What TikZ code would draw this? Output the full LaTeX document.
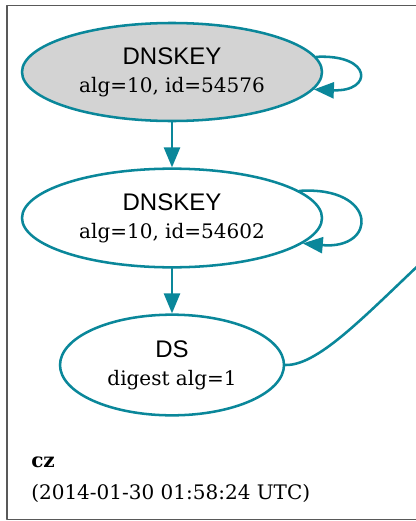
\documentclass[tikz,border=0pt]{standalone}
\usepackage{fontspec}
\setmainfont{DejaVu Serif}
\newfontfamily\keysans{Liberation Sans}
\usetikzlibrary{shapes.geometric,arrows.meta}
\definecolor{dnsteal}{RGB}{10,135,154}
\definecolor{keygray}{RGB}{211,211,211}

\begin{document}
\begin{tikzpicture}[x=0.75pt,y=-0.75pt,>={Triangle[length=15pt,width=12pt]},line join=round,line cap=round,
	rrset/.style={ellipse,draw=dnsteal,line width=1.9pt,inner sep=0pt,align=center,font=\fontsize{15}{19}\selectfont},
	rredge/.style={->,draw=dnsteal,line width=1.9pt}]
	\useasboundingbox (0,0) rectangle (416,521);
	\clip (0,0) rectangle (416,521);
	% zone box
	\draw[black!65,line width=0.9pt] (7,5.5) rectangle (440,519.5);
	% keys and ds
	\node[rrset,fill=keygray,minimum width=225pt,minimum height=73.5pt] (dnskey1) at (172,72)
		{{\keysans\fontsize{18}{19}\selectfont DNSKEY}\\[2pt]alg=10, id=54576};
	\node[rrset,minimum width=225pt,minimum height=74pt] (dnskey2) at (172,218)
		{{\keysans\fontsize{18}{19}\selectfont DNSKEY}\\[2pt]alg=10, id=54602};
	\node[rrset,minimum width=168pt,minimum height=75.5pt] (ds) at (172,365)
		{{\keysans\fontsize{18}{19}\selectfont DS}\\[2pt]digest alg=1};
	\coordinate (parent) at (440,245);
	% edges
	\draw[rredge] (dnskey1.6) .. controls (373,54) and (373,92) .. (dnskey1.-7);
	\draw[rredge] (dnskey2.12) .. controls (378,186) and (378,250) .. (dnskey2.-11);
	\draw[rredge] (dnskey1.south) -- (dnskey2.north);
	\draw[rredge] (dnskey2.south) -- (ds.north);
	\draw[draw=dnsteal,line width=1.9pt] (ds.east) .. controls (320,366) and (370,310) .. (parent);
	% zone label
	\node[anchor=base west,inner sep=0pt,font=\fontsize{15}{18}\selectfont\bfseries] (zonename) at (31,467) {cz};
	\node[anchor=base west,inner sep=0pt,font=\fontsize{15}{18}\selectfont] (zonetime) at (31,499) {(2014-01-30 01:58:24 UTC)};
\end{tikzpicture}
\end{document}
